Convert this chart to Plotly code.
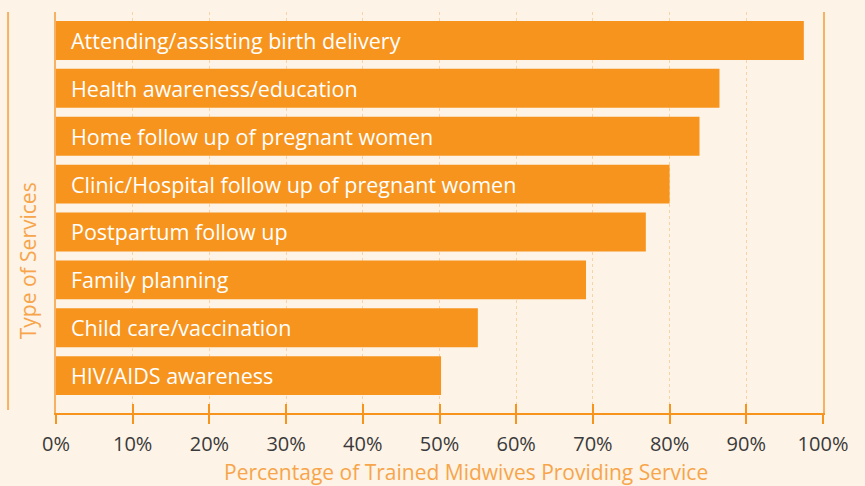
import plotly.graph_objects as go

categories = [
    "Attending/assisting birth delivery",
    "Health awareness/education",
    "Home follow up of pregnant women",
    "Clinic/Hospital follow up of pregnant women",
    "Postpartum follow up",
    "Family planning",
    "Child care/vaccination",
    "HIV/AIDS awareness",
]
values = [97.5, 86.5, 83.9, 80.0, 76.9, 69.1, 55.0, 50.2]
tick_vals = [0, 10, 20, 30, 40, 50, 60, 70, 80, 90, 100]
tick_text = [f"{v}%" for v in tick_vals]

BG = "#FDF3E7"
BAR = "#F7941E"
AXIS = "#F7941E"
LIGHT = "#F6B262"
GRID = "#F9D2A6"
TITLE = "#F7A54A"
FONT = "Open Sans"

fig = go.Figure()
fig.add_trace(go.Bar(
    x=values, y=categories, orientation="h",
    marker=dict(color=BAR, line=dict(width=0)),
    width=0.8125, hoverinfo="x+y",
))
# invisible helper trace on overlay axis for inside tick marks
fig.add_trace(go.Scatter(x=[0, 100], y=[categories[0], categories[0]], xaxis="x2",
                         mode="markers", marker=dict(opacity=0), hoverinfo="skip",
                         showlegend=False))

annotations = []
for c in categories:
    annotations.append(dict(
        x=0, y=c, xref="x", yref="y", text=c, showarrow=False,
        xanchor="left", yanchor="middle", xshift=13,
        font=dict(family=FONT, size=21.5, color="white"),
    ))
annotations.append(dict(
    x=0.534, y=-0.147, xref="paper", yref="paper",
    text="Percentage of Trained Midwives Providing Service",
    showarrow=False, xanchor="center", yanchor="middle",
    font=dict(family=FONT, size=21, color=TITLE),
))
annotations.append(dict(
    x=-0.037, y=0.38, xref="paper", yref="paper",
    text="Type of Services", textangle=-90,
    showarrow=False, xanchor="center", yanchor="middle",
    font=dict(family=FONT, size=21, color=TITLE),
))

fig.update_layout(
    width=865, height=486,
    margin=dict(l=56, r=41.5, t=12, b=72.5),
    paper_bgcolor=BG, plot_bgcolor=BG,
    showlegend=False,
    bargap=0.19,
    annotations=annotations,
    xaxis=dict(
        range=[0, 100], tickvals=tick_vals, ticktext=tick_text,
        showline=True, linecolor=AXIS, linewidth=2,
        ticks="outside", ticklen=9, tickwidth=2, tickcolor=AXIS,
        ticklabelstandoff=3,
        showgrid=True, gridcolor=GRID, gridwidth=1, griddash="dot",
        zeroline=False,
        tickfont=dict(family=FONT, size=20, color="#3a3a3a"),
        fixedrange=True,
    ),
    xaxis2=dict(
        range=[0, 100], tickvals=tick_vals, overlaying="x", side="bottom",
        showticklabels=False, ticks="inside", ticklen=9, tickwidth=2,
        tickcolor=AXIS, showgrid=False, zeroline=False, showline=False,
        anchor="y",
    ),
    yaxis=dict(
        type="category", categoryorder="array", categoryarray=categories,
        range=[7.781, -0.594],
        showticklabels=False, ticks="",
        showline=True, linecolor=LIGHT, linewidth=2, mirror=True,
        showgrid=False, zeroline=False,
    ),
    shapes=[dict(
        type="line", xref="paper", yref="paper",
        x0=-0.0625, x1=-0.0625, y0=0.0075, y1=1,
        line=dict(color=LIGHT, width=2),
    )],
)

fig.write_html(
    "out.html",
    config={"displayModeBar": False},
    post_script="document.body.style.margin='0';document.body.style.padding='0';"
                "document.body.style.background='" + BG + "';",
)
